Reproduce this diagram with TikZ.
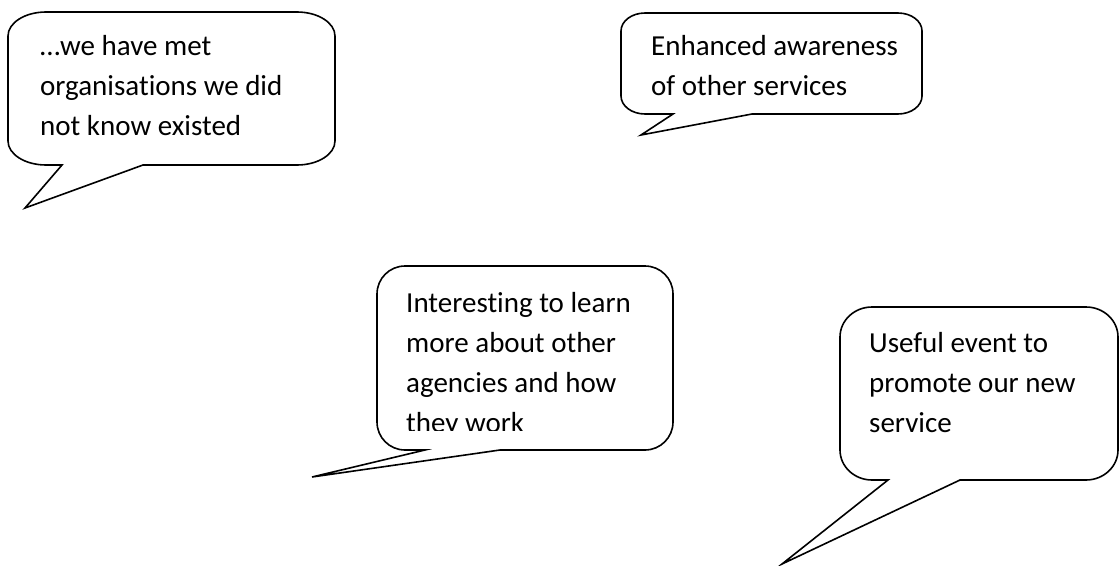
\documentclass[tikz,border=0pt]{standalone}
\usepackage{fontspec}
\setmainfont{Carlito}[Ligatures={NoCommon}]
\newcommand\bubblepath[9]{%
  \draw[bubbleline] ({#1+#5},#2) -- ({#3-#5},#2)
    .. controls ({#3-0.448*#5},#2) and (#3,{#2+0.448*#6}) .. (#3,{#2+#6})
    -- (#3,{#4-#6})
    .. controls (#3,{#4-0.448*#6}) and ({#3-0.448*#5},#4) .. ({#3-#5},#4)
    -- (#8,#4) -- (#9) -- (#7,#4) -- ({#1+#5},#4)
    .. controls ({#1+0.448*#5},#4) and (#1,{#4-0.448*#6}) .. (#1,{#4-#6})
    -- (#1,{#2+#6})
    .. controls (#1,{#2+0.448*#6}) and ({#1+0.448*#5},#2) .. ({#1+#5},#2) -- cycle;}
\tikzset{
  bubbleline/.style={draw=black, line width=1.6pt, fill=white, line join=miter},
  bubbletext/.style={anchor=base west, inner sep=0pt, font=\fontsize{29}{40}\selectfont, text=black}
}
\begin{document}
\begin{tikzpicture}[x=1pt,y=-1pt]
\useasboundingbox (0,0) rectangle (1119,565);
\fill[white] (0,0) rectangle (1119,565);
% tips
\coordinate (tipA) at (25,208);
\coordinate (tipB) at (641,135);
\coordinate (tipC) at (312,477);
\coordinate (tipD) at (782,564);
% callout 1
\bubblepath{8}{12}{335}{165}{38}{24}{62}{143}{tipA}
\node[bubbletext] (textA) at (40,55) {\vtop{\hbox{…we have met}\hbox{organisations we did}\hbox{not know existed}}};
% callout 2
\bubblepath{621}{13}{922}{114}{24}{18}{673}{752}{tipB}
\node[bubbletext] (textB) at (651,55) {\vtop{\hbox{Enhanced awareness}\hbox{of other services}}};
% callout 3
\bubblepath{377}{266}{673}{450}{28}{28}{425}{500}{tipC}
\begin{scope}
\clip (377,266) rectangle (673,430);
\node[bubbletext] (textC) at (406,312) {\vtop{\hbox{Interesting to learn}\hbox{more about other}\hbox{agencies and how}\hbox{they work}}};
\end{scope}
% callout 4
\bubblepath{840}{307}{1118}{480}{32}{30}{888}{960}{tipD}
\node[bubbletext] (textD) at (869,352) {\vtop{\hbox{Useful event to}\hbox{promote our new}\hbox{service}}};
\end{tikzpicture}
\end{document}
